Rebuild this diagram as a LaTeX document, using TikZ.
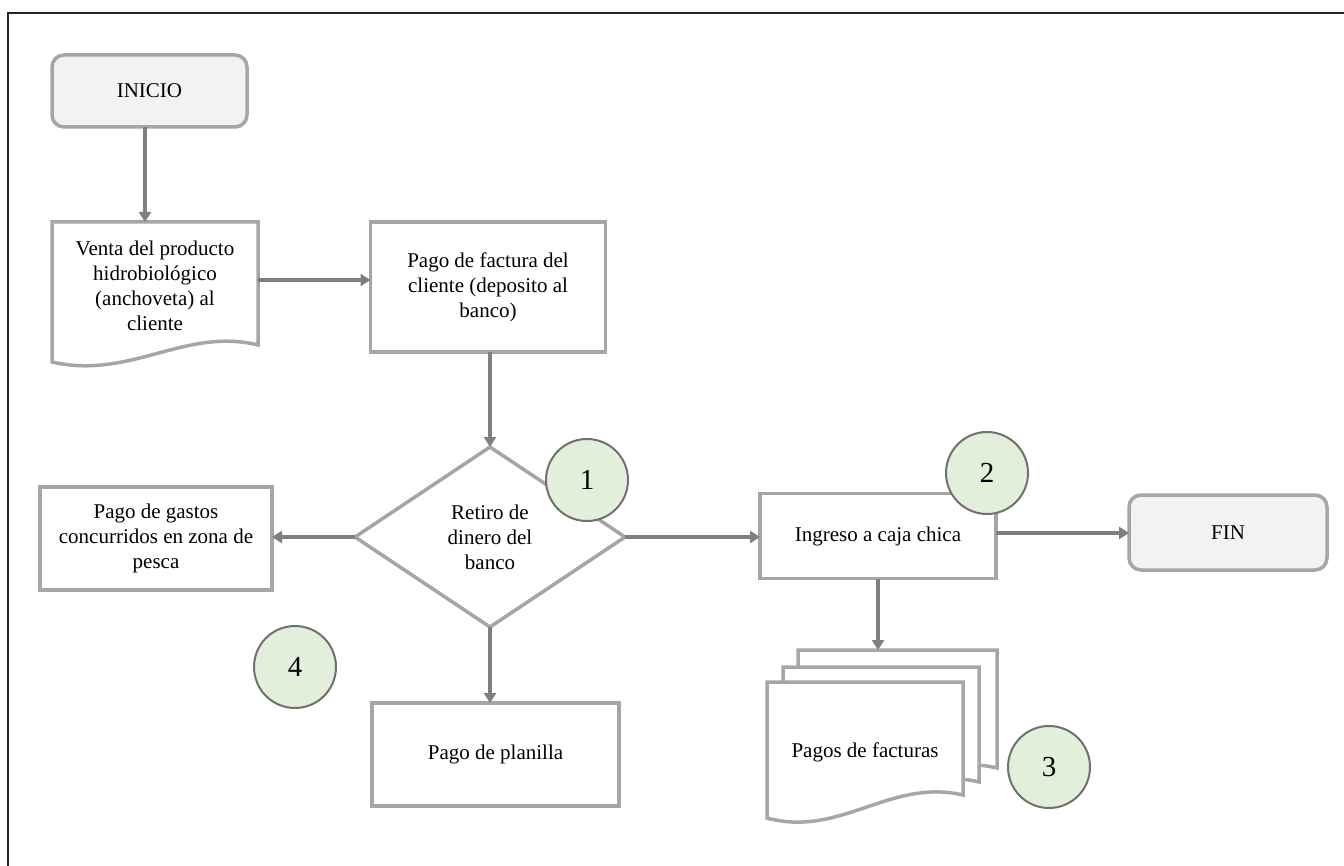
\documentclass[tikz,border=0pt]{standalone}
\usepackage{fontspec}
\setmainfont{Liberation Serif}
\usetikzlibrary{shapes.geometric,arrows.meta}
\definecolor{boxgray}{HTML}{A6A6A6}
\definecolor{arrgray}{HTML}{7F7F7F}
\definecolor{termfill}{HTML}{F2F2F2}
\definecolor{circfill}{HTML}{E2EFDA}
\definecolor{circline}{HTML}{707070}
\tikzset{
  every node/.style={font=\fontsize{21}{25}\selectfont, text=black, align=center, inner sep=0pt, outer sep=0pt},
  term/.style={draw=boxgray, line width=3.5pt, fill=termfill, rounded corners=12pt},
  procbox/.style={draw=boxgray, line width=3.5pt, fill=white},
  docline/.style={draw=boxgray, line width=3.5pt, fill=white, line join=miter},
  decbox/.style={draw=boxgray, line width=3.5pt, fill=white, diamond},
  numcirc/.style={circle, draw=circline, line width=2pt, fill=circfill, minimum size=82pt, font=\fontsize{29}{31}\selectfont},
  conn/.style={draw=arrgray, line width=3.5pt, -{Triangle[length=10pt,width=12pt]}},
}
\begin{document}
\begin{tikzpicture}[x=1pt,y=-1pt]
\useasboundingbox (0,0) rectangle (1344,866);
\draw[line width=2pt, black!85] (8,866) -- (8,13) -- (1344,13);

% terminals
\node[term, minimum width=195pt, minimum height=72pt] (inicio) at (149.5,91) {INICIO};
\node[term, minimum width=198pt, minimum height=75pt] (fin) at (1228,532.5) {FIN};

% document: venta
\path[docline] (52,222) -- (258,222) -- (258,345)
  .. controls (185,327) and (130,380) .. (52,362) -- cycle;
\node[minimum width=206pt, minimum height=116pt] (venta) at (155,286) {Venta del producto\\hidrobiológico\\(anchoveta) al\\cliente};

% process boxes
\node[procbox, minimum width=235pt, minimum height=130pt] (factura) at (488,287) {Pago de factura del\\cliente (deposito al\\banco)};
\node[decbox, minimum width=270pt, minimum height=180pt] (dia) at (490,537) {Retiro de\\dinero del\\banco};
\node[procbox, minimum width=232pt, minimum height=103pt] (gastos) at (156,538.5) {Pago de gastos\\concurridos en zona de\\pesca};
\node[procbox, minimum width=247pt, minimum height=103pt] (planilla) at (495.5,754.5) {Pago de planilla};
\node[procbox, minimum width=236pt, minimum height=85pt] (ingreso) at (878,536) {Ingreso a caja chica};

% multi-document stack
\path[docline] (798,650) -- (997,650) -- (997,768)
  .. controls (930,752) and (870,800) .. (798,785) -- cycle;
\path[docline] (783,667) -- (979,667) -- (979,782)
  .. controls (912,766) and (852,814) .. (783,800) -- cycle;
\path[docline] (767,682) -- (963,682) -- (963,795)
  .. controls (890,778) and (840,838) .. (767,818) -- cycle;
\node[minimum width=196pt, minimum height=10pt] (pagos) at (865,752) {Pagos de facturas};
\coordinate (pagostop) at (878,650);

% connectors
\draw[conn] (inicio.south -| 145,0) -- (145,222);
\draw[conn] ([yshift=6pt]venta.east) -- ([yshift=6pt]venta.east -| factura.west);
\draw[conn] (factura.south -| dia.north) -- (dia.north);
\draw[conn] (dia.west) -- (dia.west -| gastos.east);
\draw[conn] (dia.east) -- (dia.east -| ingreso.west);
\draw[conn] (dia.south) -- (dia.south |- planilla.north);
\draw[conn] ([yshift=3pt]ingreso.east) -- ([yshift=3pt]ingreso.east -| fin.west);
\draw[conn] (ingreso.south) -- (pagostop);

% numbered circles
\node[numcirc] (c1) at (587,480) {1};
\node[numcirc] (c2) at (987,473) {2};
\node[numcirc] (c3) at (1049,767) {3};
\node[numcirc] (c4) at (295,667) {4};
\end{tikzpicture}
\end{document}
